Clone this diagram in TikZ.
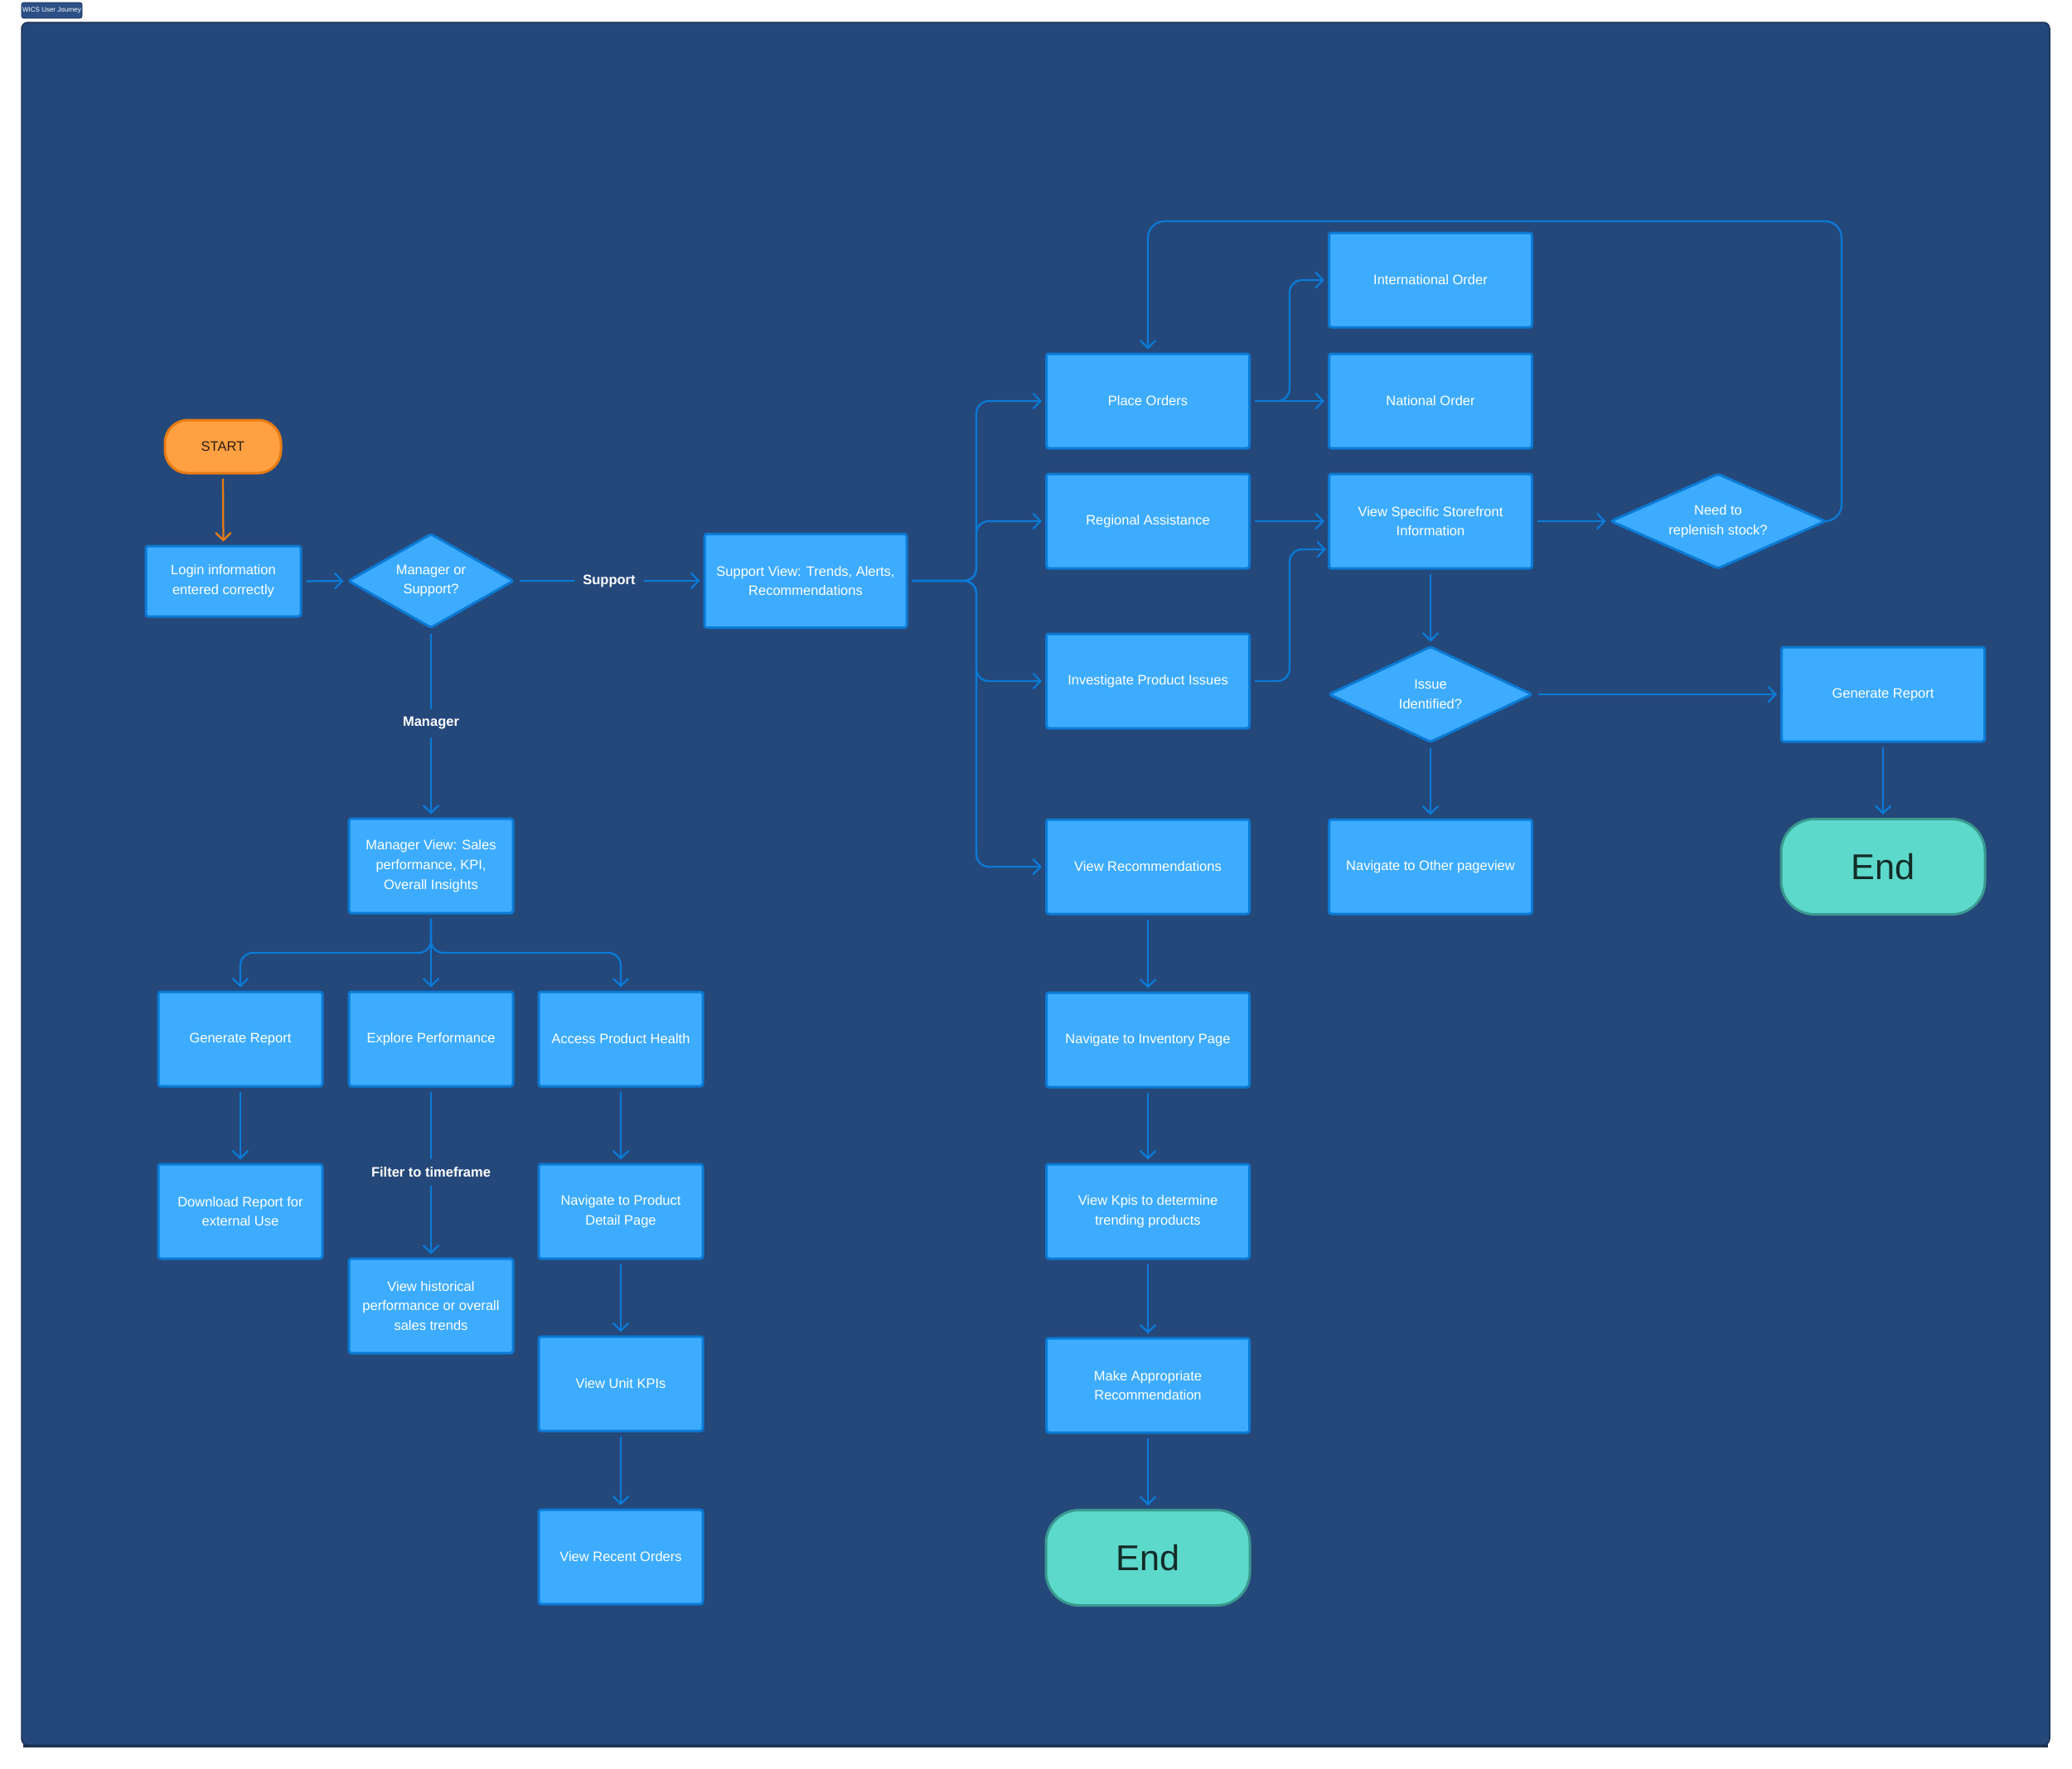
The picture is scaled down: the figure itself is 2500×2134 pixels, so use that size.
\documentclass[tikz,border=0pt]{standalone}
\usepackage{fontspec}
\setmainfont{Liberation Sans}
\usetikzlibrary{arrows.meta, shapes.geometric, calc}

\definecolor{bgblue}{RGB}{37,72,122}
\definecolor{frameline}{RGB}{28,50,84}
\definecolor{boxfill}{RGB}{61,172,255}
\definecolor{boxline}{RGB}{11,122,212}
\definecolor{connblue}{RGB}{10,123,216}
\definecolor{startfill}{RGB}{255,160,67}
\definecolor{startline}{RGB}{232,124,18}
\definecolor{startink}{RGB}{43,30,18}
\definecolor{endfill}{RGB}{92,217,203}
\definecolor{endline}{RGB}{58,154,143}
\definecolor{endink}{RGB}{20,44,40}
\definecolor{tagfill}{RGB}{44,80,134}

\newcommand\boxfont{\fontsize{6.6}{9.5}\selectfont}
\newcommand\termfont{\fontsize{17.3}{20}\selectfont}

\begin{document}
\begin{tikzpicture}[x=0.4pt, y=-0.4pt,
  stepbox/.style={rectangle, draw=boxline, fill=boxfill, line width=1.2pt,
    rounded corners=1.2pt, minimum width=79.2pt, minimum height=45.6pt,
    inner sep=2pt, align=center, text=white, font=\boxfont},
  widebox/.style={stepbox, minimum width=98pt},
  decision/.style={diamond, draw=boxline, fill=boxfill, line width=1.2pt,
    rounded corners=1.2pt, inner sep=0pt, aspect=2, align=center,
    text=white, font=\boxfont},
  terminal/.style={rectangle, draw=endline, fill=endfill, line width=1.2pt,
    rounded corners=16pt, minimum width=98.4pt, minimum height=46pt,
    text=endink, font=\termfont},
  startbox/.style={rectangle, draw=startline, fill=startfill, line width=1.2pt,
    rounded corners=11pt, minimum width=56pt, minimum height=25.6pt,
    text=startink, font=\boxfont},
  conn/.style={draw=connblue, line width=0.9pt, rounded corners=6pt,
    -{Straight Barb[length=3.6pt,width=7.4pt]}, shorten >=1.6pt, shorten <=2pt},
  lbl/.style={fill=bgblue, text=white, font=\boxfont\bfseries, inner sep=4pt}
]
% page and frame
\fill[white] (0,0) rectangle (2500,2134);
\useasboundingbox (0,0) rectangle (2500,2134);
\fill[frameline] (28,30) rectangle (2471,2109);
\draw[fill=bgblue, draw=frameline, line width=0.6pt, rounded corners=3pt] (26,27) rectangle (2473,2106);
\node[rectangle, fill=tagfill, draw=frameline, line width=0.3pt, rounded corners=1pt,
  minimum width=29.2pt, minimum height=7.6pt, inner sep=0pt, text=white,
  font=\fontsize{3.2}{4}\selectfont] (tag) at (62.5,12.5) {WICS User Journey};

% left part
\node[startbox] (start) at (269,539) {START};
\node[stepbox, minimum width=74.8pt, minimum height=34pt] (login) at (269.5,701.5) {Login information\\entered correctly};
\node[decision, minimum width=80pt, minimum height=45.6pt] (mos) at (520,701) {Manager or\\Support?};
\node[widebox, minimum width=97.6pt, minimum height=45.2pt] (sv) at (972,701) {Support View: Trends, Alerts,\\Recommendations};
\node[stepbox] (mv) at (520,1045) {Manager View: Sales\\performance, KPI,\\Overall Insights};

\node[stepbox] (gr1) at (290,1254) {Generate Report};
\node[stepbox] (ep) at (520,1254) {Explore Performance};
\node[stepbox] (aph) at (749,1254) {Access Product Health};
\node[stepbox] (dl) at (290,1462) {Download Report for\\external Use};
\node[stepbox] (vh) at (520,1576) {View historical\\performance or overall\\sales trends};
\node[stepbox] (npd) at (749,1462) {Navigate to Product\\Detail Page};
\node[stepbox] (vuk) at (749,1670) {View Unit KPIs};
\node[stepbox] (vro) at (749,1879) {View Recent Orders};

% middle column
\node[widebox] (po) at (1385,484) {Place Orders};
\node[widebox] (ra) at (1385,629) {Regional Assistance};
\node[widebox] (ip) at (1385,822) {Investigate Product Issues};
\node[widebox] (vr) at (1385,1046) {View Recommendations};
\node[widebox] (nip) at (1385,1255) {Navigate to Inventory Page};
\node[widebox] (vk) at (1385,1462) {View Kpis to determine\\trending products};
\node[widebox] (mar) at (1385,1672) {Make Appropriate\\Recommendation};
\node[terminal] (end1) at (1385,1880) {End};

% right part
\node[widebox] (io) at (1726,338) {International Order};
\node[widebox] (no) at (1726,484) {National Order};
\node[widebox] (vs) at (1726,629) {View Specific Storefront\\Information};
\node[decision, minimum width=98.4pt, minimum height=46.4pt] (iss) at (1726,838) {Issue\\Identified?};
\node[widebox] (nop) at (1726,1046) {Navigate to Other pageview};
\node[decision, minimum width=104pt, minimum height=46pt] (rep) at (2073,629) {Need to\\replenish stock?};
\node[widebox] (gr2) at (2272,838) {Generate Report};
\node[terminal] (end2) at (2272,1046) {End};

% junction coordinates
\coordinate (svj) at (1178,701);
\coordinate (mvj) at (520,1150);
\coordinate (poj) at (1556,484);
\coordinate (ipj) at (1556,822);
\coordinate (vsin) at (1604,663);
\coordinate (loopr) at (2222,629);
\coordinate (loopt) at (2222,267);

% connectors
\draw[conn, draw=startline] (start.south) -- (login.north);
\draw[conn] (login.east) -- (mos.west);
\draw[conn] (mos.east) -- node[lbl] {Support} (sv.west);
\draw[conn] (mos.south) -- node[lbl] {Manager} (mv.north);

\draw[conn] (mv.south) -- (mvj) -| (gr1.north);
\draw[conn] (mv.south) -- (ep.north);
\draw[conn] (mv.south) -- (mvj) -| (aph.north);
\draw[conn] (gr1.south) -- (dl.north);
\draw[conn] (ep.south) -- node[lbl] {Filter to timeframe} (vh.north);
\draw[conn] (aph.south) -- (npd.north);
\draw[conn] (npd.south) -- (vuk.north);
\draw[conn] (vuk.south) -- (vro.north);

\draw[conn] (sv.east) -- (svj) |- (po.west);
\draw[conn] (sv.east) -- (svj) |- (ra.west);
\draw[conn] (sv.east) -- (svj) |- (ip.west);
\draw[conn] (sv.east) -- (svj) |- (vr.west);

\draw[conn] (vr.south) -- (nip.north);
\draw[conn] (nip.south) -- (vk.north);
\draw[conn] (vk.south) -- (mar.north);
\draw[conn] (mar.south) -- (end1.north);

\draw[conn] (po.east) -- (no.west);
\draw[conn] (po.east) -- (poj) |- (io.west);
\draw[conn] (ra.east) -- (vs.west);
\draw[conn] (ip.east) -- (ipj) |- (vsin);
\draw[conn] (vs.east) -- (rep.west);
\draw[conn, rounded corners=8pt] (rep.east) -- (loopr) -- (loopt) -| (po.north);
\draw[conn] (vs.south) -- (iss.north);
\draw[conn] (iss.east) -- (gr2.west);
\draw[conn] (iss.south) -- (nop.north);
\draw[conn] (gr2.south) -- (end2.north);
\end{tikzpicture}
\end{document}
